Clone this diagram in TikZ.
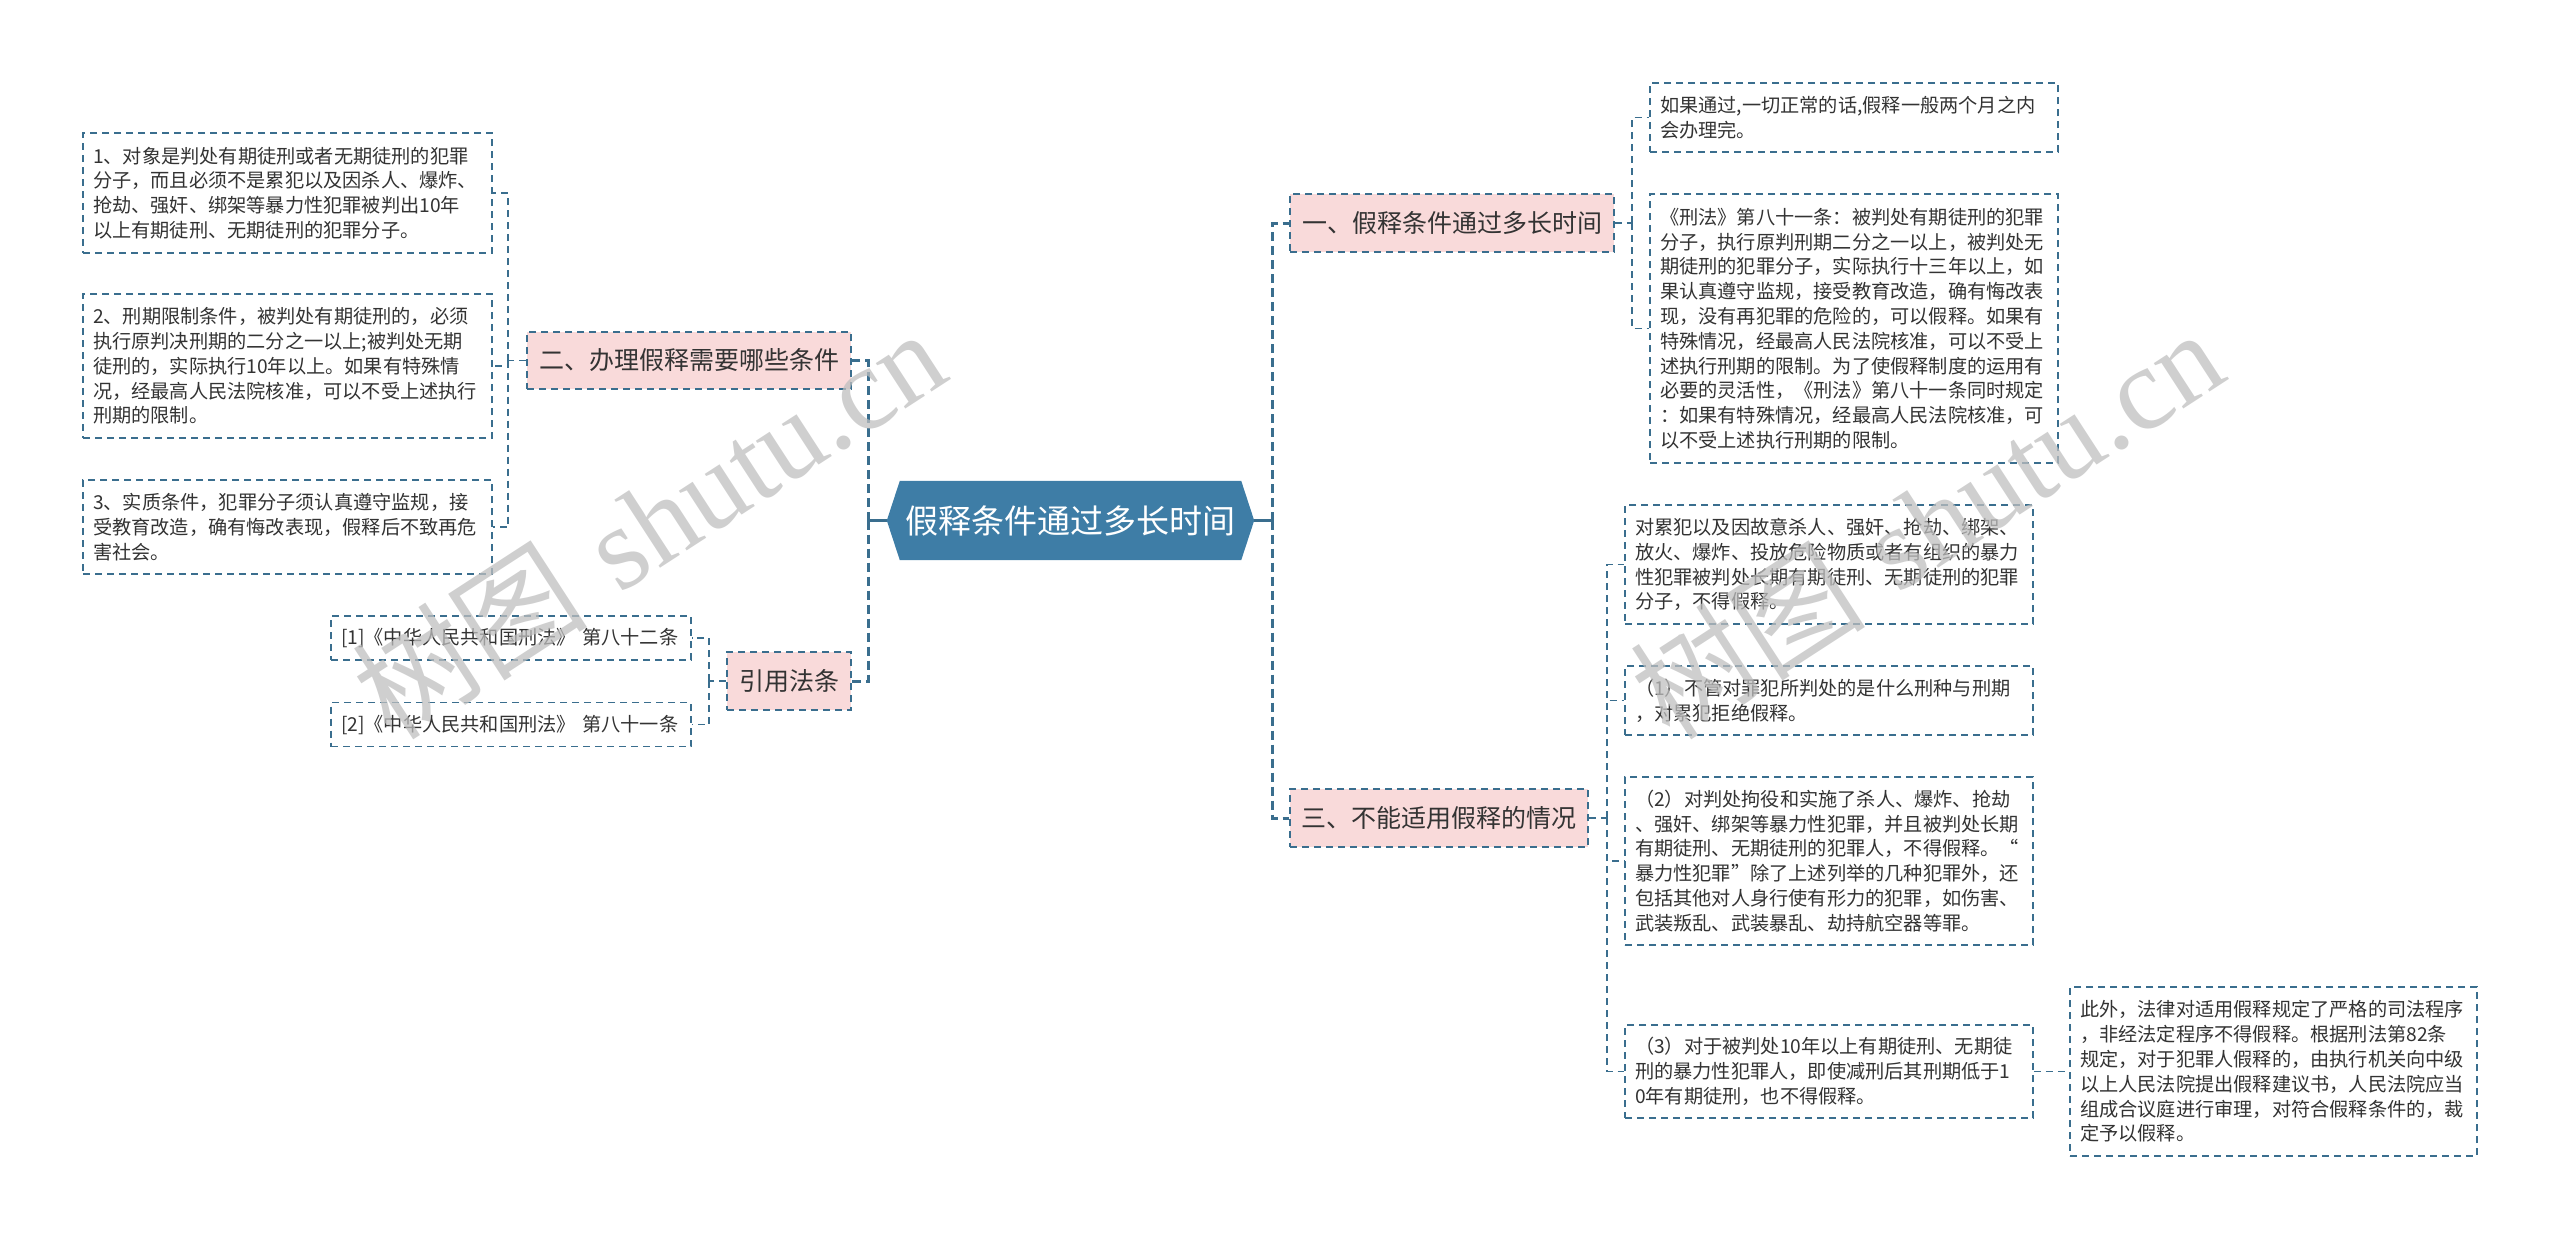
\documentclass[tikz,border=0pt]{standalone}
\usepackage{fontspec}
\setmainfont{Noto Sans CJK SC}
\newfontfamily\wmserif{Liberation Serif}
\usetikzlibrary{backgrounds}
\definecolor{linec}{HTML}{3A6E8E}
\definecolor{hexc}{HTML}{3E7DA6}
\definecolor{pinkc}{HTML}{F9DADA}
\definecolor{txtc}{HTML}{333333}
\tikzset{
  leaf/.style={draw=linec, line width=1.8pt, dash pattern=on 7pt off 5pt, fill=white,
    inner xsep=10pt, inner ysep=0pt, align=left, text=txtc,
    font=\fontsize{19.2}{24.8}\selectfont},
  topic/.style={draw=linec, line width=1.8pt, dash pattern=on 7pt off 5pt, fill=pinkc,
    inner sep=0pt, text=txtc, font=\fontsize{25}{30}\selectfont},
  subline/.style={draw=linec, line width=1.8pt, dash pattern=on 7pt off 5pt},
  mainline/.style={draw=linec, line width=3pt, dash pattern=on 9pt off 5pt},
  stub/.style={draw=linec, line width=3pt},
  wm/.style={text=black!25, opacity=0.75, font=\fontsize{118}{118}\selectfont, rotate=33, inner sep=0pt}
}
\begin{document}
\begin{tikzpicture}[x=1pt,y=-1pt]
\path[use as bounding box] (0,0) rectangle (2560,1240);

% central node
\node[font=\fontsize{33}{36}\selectfont, text=white, minimum width=341pt, minimum height=79pt, inner sep=0pt] (c) at (1070.5,520.5) {假释条件通过多长时间};
\begin{scope}[on background layer]
\fill[hexc] (c.north west) -- (c.north east) -- ([xshift=13pt]c.east) -- (c.south east) -- (c.south west) -- ([xshift=-13pt]c.west) -- cycle;
\end{scope}
\coordinate (cw) at ([xshift=-13pt]c.west);
\coordinate (ce) at ([xshift=13pt]c.east);

% level-1 topics
\node[topic, minimum width=324pt, minimum height=57pt] (n2) at (689,360.5) {二、办理假释需要哪些条件};
\node[topic, minimum width=124pt, minimum height=58pt] (n4) at (789,681) {引用法条};
\node[topic, minimum width=324pt, minimum height=58pt] (n1) at (1452,223) {一、假释条件通过多长时间};
\node[topic, minimum width=298pt, minimum height=58pt] (n3) at (1439,818) {三、不能适用假释的情况};

% left leaves
\node[leaf, text width=389pt, minimum height=120pt] (l1) at (287.5,193) {1、对象是判处有期徒刑或者无期徒刑的犯罪\\分子，而且必须不是累犯以及因杀人、爆炸、\\抢劫、强奸、绑架等暴力性犯罪被判出10年\\以上有期徒刑、无期徒刑的犯罪分子。};
\node[leaf, text width=389pt, minimum height=144pt] (l2) at (287.5,366) {2、刑期限制条件，被判处有期徒刑的，必须\\执行原判决刑期的二分之一以上;被判处无期\\徒刑的，实际执行10年以上。如果有特殊情\\况，经最高人民法院核准，可以不受上述执行\\刑期的限制。};
\node[leaf, text width=389pt, minimum height=94pt] (l3) at (287.5,527) {3、实质条件，犯罪分子须认真遵守监规，接\\受教育改造，确有悔改表现，假释后不致再危\\害社会。};
\node[leaf, text width=340pt, minimum height=44pt] (r1) at (511,638) {[1]《中华人民共和国刑法》 第八十二条};
\node[leaf, text width=340pt, minimum height=44pt] (r2) at (511,724.5) {[2]《中华人民共和国刑法》 第八十一条};

% right leaves
\node[leaf, text width=388pt, minimum height=69pt] (ra) at (1854,117.5) {如果通过,一切正常的话,假释一般两个月之内\\会办理完。};
\node[leaf, text width=388pt, minimum height=269pt] (rb) at (1854,328.5) {《刑法》第八十一条：被判处有期徒刑的犯罪\\分子，执行原判刑期二分之一以上，被判处无\\期徒刑的犯罪分子，实际执行十三年以上，如\\果认真遵守监规，接受教育改造，确有悔改表\\现，没有再犯罪的危险的，可以假释。如果有\\特殊情况，经最高人民法院核准，可以不受上\\述执行刑期的限制。为了使假释制度的运用有\\必要的灵活性，《刑法》第八十一条同时规定\\：如果有特殊情况，经最高人民法院核准，可\\以不受上述执行刑期的限制。};
\node[leaf, text width=388pt, minimum height=119pt] (rc) at (1829,564.5) {对累犯以及因故意杀人、强奸、抢劫、绑架、\\放火、爆炸、投放危险物质或者有组织的暴力\\性犯罪被判处长期有期徒刑、无期徒刑的犯罪\\分子，不得假释。};
\node[leaf, text width=388pt, minimum height=69pt] (rd) at (1829,700.5) {（1）不管对罪犯所判处的是什么刑种与刑期\\，对累犯拒绝假释。};
\node[leaf, text width=388pt, minimum height=168pt] (re) at (1829,861) {（2）对判处拘役和实施了杀人、爆炸、抢劫\\、强奸、绑架等暴力性犯罪，并且被判处长期\\有期徒刑、无期徒刑的犯罪人，不得假释。“\\暴力性犯罪”除了上述列举的几种犯罪外，还\\包括其他对人身行使有形力的犯罪，如伤害、\\武装叛乱、武装暴乱、劫持航空器等罪。};
\node[leaf, text width=388pt, minimum height=93pt] (rf) at (1829,1071.5) {（3）对于被判处10年以上有期徒刑、无期徒\\刑的暴力性犯罪人，即使减刑后其刑期低于1\\0年有期徒刑，也不得假释。};
\node[leaf, text width=387pt, minimum height=169pt] (rg) at (2273.5,1071.5) {此外，法律对适用假释规定了严格的司法程序\\，非经法定程序不得假释。根据刑法第82条\\规定，对于犯罪人假释的，由执行机关向中级\\以上人民法院提出假释建议书，人民法院应当\\组成合议庭进行审理，对符合假释条件的，裁\\定予以假释。};

% main connectors
\coordinate (jl) at (868,520.5);
\coordinate (jr) at (1272,520.5);
\draw[stub] (cw) -- (jl);
\draw[stub] (ce) -- (jr);
\draw[mainline] (jl) |- (n2.east);
\draw[mainline] (jl) |- (n4.east);
\draw[mainline] (jr) |- (n1.west);
\draw[mainline] (jr) |- (n3.west);

% sub connectors
\coordinate (k2) at (508,360.5);
\draw[subline] (n2.west) -- (k2);
\draw[subline] (k2) |- (l1.east);
\draw[subline] (k2) |- (l2.east);
\draw[subline] (k2) |- (l3.east);
\coordinate (k4) at (709,681);
\draw[subline] (n4.west) -- (k4);
\draw[subline] (k4) |- (r1.east);
\draw[subline] (k4) |- (r2.east);
\coordinate (k1) at (1632,223);
\draw[subline] (n1.east) -- (k1);
\draw[subline] (k1) |- (ra.west);
\draw[subline] (k1) |- (rb.west);
\coordinate (k3) at (1607,818);
\draw[subline] (n3.east) -- (k3);
\draw[subline] (k3) |- (rc.west);
\draw[subline] (k3) |- (rd.west);
\draw[subline] (k3) |- (re.west);
\draw[subline] (k3) |- (rf.west);
\draw[subline] (rf.east) -- (rg.west);

% watermarks
\node[wm] (w1) at (648,523) {树图\hspace{0.3em}{\wmserif shutu.cn}};
\node[wm] (w2) at (1926,523) {树图\hspace{0.3em}{\wmserif shutu.cn}};
\end{tikzpicture}
\end{document}
